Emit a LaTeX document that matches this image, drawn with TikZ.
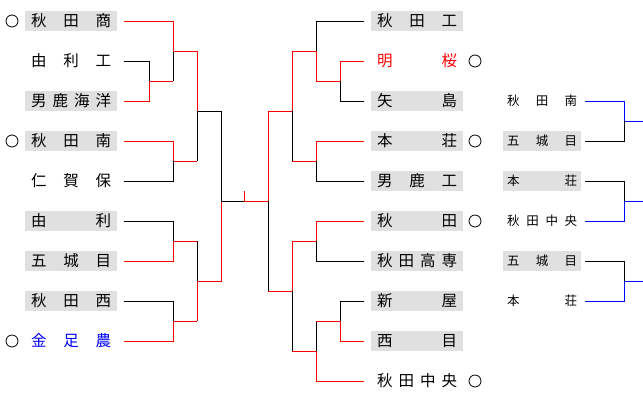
\documentclass[tikz,border=0pt]{standalone}
\usepackage{fontspec}
\setmainfont{Noto Sans CJK JP}
\definecolor{boxgray}{HTML}{E0E0E0}
\definecolor{rd}{HTML}{FF0000}
\definecolor{bl}{HTML}{0000FF}
\tikzset{
  big/.style={anchor=west,inner sep=0pt,minimum height=20pt,minimum width=92pt,font=\fontsize{15.5}{16}\selectfont},
  sml/.style={anchor=west,inner sep=0pt,minimum height=20pt,minimum width=78pt,font=\fontsize{12.5}{13}\selectfont},
  gb/.style={fill=boxgray},
  ring/.style={draw,circle,minimum size=12pt,inner sep=0pt,line width=0.8pt},
  ln/.style={line width=1pt},
  r/.style={ln,draw=rd},
  k/.style={ln,draw=black},
  b/.style={ln,draw=bl}
}
\newcommand{\bigtx}[1]{\makebox[80pt][s]{#1}}
\newcommand{\smtx}[1]{\makebox[70pt][s]{#1}}
\begin{document}
\begin{tikzpicture}[x=1pt,y=-1pt]
\useasboundingbox (0,0) rectangle (643,400);
% left
\node[big,gb] (L1) at (25,21) {\bigtx{秋\hfill 田\hfill 商}};
\node[big] (L2) at (25,61) {\bigtx{由\hfill 利\hfill 工}};
\node[big,gb] (L3) at (25,101) {\bigtx{男\hfill 鹿\hfill 海\hfill 洋}};
\node[big,gb] (L4) at (25,141) {\bigtx{秋\hfill 田\hfill 南}};
\node[big] (L5) at (25,181) {\bigtx{仁\hfill 賀\hfill 保}};
\node[big,gb] (L6) at (25,221) {\bigtx{由\hfill 利}};
\node[big,gb] (L7) at (25,261) {\bigtx{五\hfill 城\hfill 目}};
\node[big,gb] (L8) at (25,301) {\bigtx{秋\hfill 田\hfill 西}};
\node[big,text=bl] (L9) at (25,341) {\bigtx{金\hfill 足\hfill 農}};
\node[ring] (c1) at (12,21) {};
\node[ring] (c4) at (12,141) {};
\node[ring] (c9) at (12,341) {};
% middle
\node[big,gb] (M1) at (371,21) {\bigtx{秋\hfill 田\hfill 工}};
\node[big,text=rd] (M2) at (371,61) {\bigtx{明\hfill 桜}};
\node[big,gb] (M3) at (371,101) {\bigtx{矢\hfill 島}};
\node[big,gb] (M4) at (371,141) {\bigtx{本\hfill 荘}};
\node[big,gb] (M5) at (371,181) {\bigtx{男\hfill 鹿\hfill 工}};
\node[big,gb] (M6) at (371,221) {\bigtx{秋\hfill 田}};
\node[big,gb] (M7) at (371,261) {\bigtx{秋\hfill 田\hfill 高\hfill 専}};
\node[big,gb] (M8) at (371,301) {\bigtx{新\hfill 屋}};
\node[big,gb] (M9) at (371,341) {\bigtx{西\hfill 目}};
\node[big] (M10) at (371,381) {\bigtx{秋\hfill 田\hfill 中\hfill 央}};
\node[ring] (d2) at (475,61) {};
\node[ring] (d4) at (475,141) {};
\node[ring] (d6) at (475,221) {};
\node[ring] (d10) at (475,381) {};
% right
\node[sml] (R1) at (503,101) {\smtx{秋\hfill 田\hfill 南}};
\node[sml,gb] (R2) at (503,141) {\smtx{五\hfill 城\hfill 目}};
\node[sml,gb] (R3) at (503,181) {\smtx{本\hfill 荘}};
\node[sml] (R4) at (503,221) {\smtx{秋\hfill 田\hfill 中\hfill 央}};
\node[sml,gb] (R5) at (503,261) {\smtx{五\hfill 城\hfill 目}};
\node[sml] (R6) at (503,301) {\smtx{本\hfill 荘}};
% left bracket lines
\draw[r] (124,21) -- (173,21) -- (173,51);
\draw[k] (173,51) -- (173,81);
\draw[k] (124,61) -- (149,61) -- (149,81);
\draw[r] (124,101) -- (149,101) -- (149,81) -- (173,81);
\draw[r] (173,51) -- (197,51) -- (197,111);
\draw[k] (197,111) -- (197,161);
\draw[r] (124,141) -- (173,141) -- (173,161) -- (197,161);
\draw[k] (124,181) -- (173,181) -- (173,161);
\draw[k] (124,221) -- (173,221) -- (173,241);
\draw[r] (124,261) -- (173,261) -- (173,241) -- (197,241);
\draw[k] (124,301) -- (173,301) -- (173,321);
\draw[r] (124,341) -- (173,341) -- (173,321) -- (197,321);
\draw[k] (197,241) -- (197,281);
\draw[r] (197,321) -- (197,281) -- (221,281) -- (221,201);
\draw[k] (197,111) -- (221,111) -- (221,201) -- (244,201);
\draw[r] (244,201) -- (268,201);
\draw[r] (244,191) -- (244,201);
% right bracket lines
\draw[r] (268,201) -- (268,111) -- (292,111) -- (292,51) -- (316,51);
\draw[k] (268,201) -- (268,291);
\draw[k] (292,111) -- (292,161);
\draw[k] (364,21) -- (316,21) -- (316,51);
\draw[r] (316,51) -- (316,81) -- (340,81) -- (340,61) -- (364,61);
\draw[k] (340,81) -- (340,101) -- (364,101);
\draw[r] (292,161) -- (316,161) -- (316,141) -- (364,141);
\draw[k] (316,161) -- (316,181) -- (364,181);
\draw[r] (268,291) -- (292,291) -- (292,241) -- (316,241) -- (316,221) -- (364,221);
\draw[k] (316,241) -- (316,261) -- (364,261);
\draw[k] (292,291) -- (292,351);
\draw[r] (292,351) -- (316,351) -- (316,381) -- (364,381);
\draw[k] (316,351) -- (316,321);
\draw[r] (316,321) -- (340,321) -- (340,341) -- (364,341);
\draw[k] (340,321) -- (340,301) -- (364,301);
% far right
\draw[b] (585,101) -- (624,101) -- (624,121) -- (643,121);
\draw[k] (585,141) -- (624,141) -- (624,121);
\draw[k] (585,181) -- (624,181) -- (624,201);
\draw[b] (585,221) -- (624,221) -- (624,201) -- (643,201);
\draw[k] (585,261) -- (624,261) -- (624,281);
\draw[b] (585,301) -- (624,301) -- (624,281) -- (643,281);
\end{tikzpicture}
\end{document}
